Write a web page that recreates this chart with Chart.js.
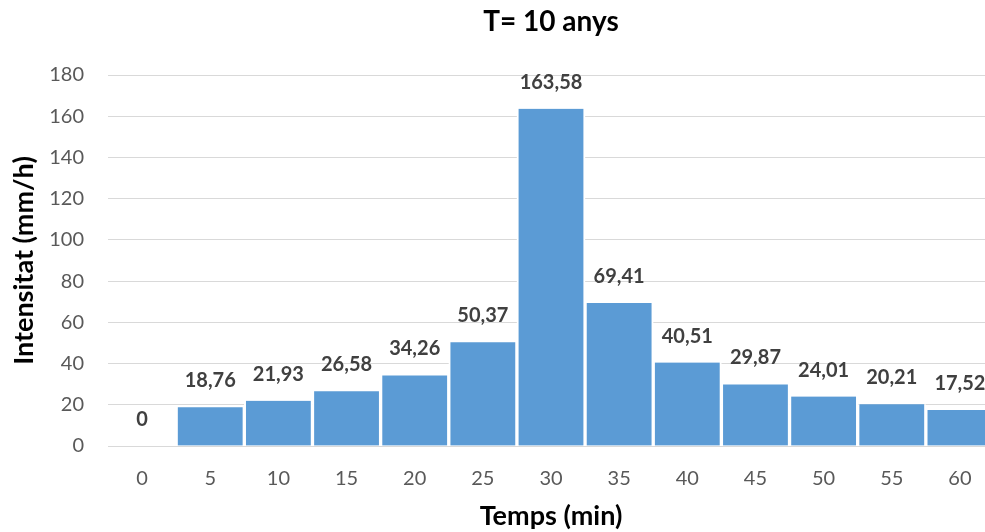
<!DOCTYPE html>
<html>
<head>
<meta charset="utf-8">
<script src="https://cdn.jsdelivr.net/npm/chart.js@4.4.0/dist/chart.umd.min.js"></script>
<style>
  html, body { margin: 0; padding: 0; background: #fff; overflow: hidden; }
  .wrap { width: 994px; height: 532px; }
</style>
</head>
<body>
<div class="wrap"><canvas id="chart"></canvas></div>
<script>
const categories = ["0", "5", "10", "15", "20", "25", "30", "35", "40", "45", "50", "55", "60"];
const intensity = [0, 18.76, 21.93, 26.58, 34.26, 50.37, 163.58, 69.41, 40.51, 29.87, 24.01, 20.21, 17.52];
const yTicks = [0, 20, 40, 60, 80, 100, 120, 140, 160, 180];

const FONT = "Lato, 'Open Sans', sans-serif";

// labels above each bar, comma as decimal mark
const barLabels = {
  id: "barLabels",
  afterDatasetsDraw(chart) {
    const ctx = chart.ctx;
    const meta = chart.getDatasetMeta(0);
    ctx.save();
    ctx.font = "bold 20px " + FONT;
    ctx.fillStyle = "#404040";
    ctx.textAlign = "center";
    ctx.textBaseline = "alphabetic";
    meta.data.forEach((bar, i) => {
      const txt = String(intensity[i]).replace(".", ",");
      ctx.fillText(txt, bar.x, bar.y - 20);
    });
    ctx.restore();
  }
};

let ctx = document.getElementById("chart");
new Chart(ctx, {
  type: "bar",
  data: {
    labels: categories,
    datasets: [
      {
        data: intensity,
        backgroundColor: "#5B9BD5",
        borderColor: "#ffffff",
        borderWidth: { left: 2, right: 2, top: 0, bottom: 0 },
        borderSkipped: "bottom",
        barPercentage: 1,
        categoryPercentage: 1
      }
    ]
  },
  options: {
    responsive: true,
    maintainAspectRatio: false,
    animation: false,
    layout: { padding: 0 },
    plugins: {
      legend: { display: false },
      tooltip: { enabled: false },
      title: {
        display: true,
        fullSize: false,
        text: "T= 10 anys",
        color: "#000000",
        font: { family: FONT, size: 28, weight: "bold" },
        padding: { top: 5, bottom: 36.4 }
      }
    },
    scales: {
      x: {
        grid: { display: false, drawTicks: false },
        border: { display: true, color: "#d9d9d9", width: 1 },
        ticks: { color: "#595959", font: { family: FONT, size: 20 }, padding: 21 },
        title: {
          display: true,
          text: "Temps (min)",
          color: "#000000",
          font: { family: FONT, size: 27, weight: "bold" },
          padding: { top: 0, bottom: 0 }
        },
        afterFit(scale) { scale.height = 86; }
      },
      y: {
        min: 0,
        max: 180,
        afterBuildTicks(scale) { scale.ticks = yTicks.map(v => ({ value: v })); },
        grid: { color: "#d9d9d9", drawTicks: false },
        border: { display: false },
        ticks: { color: "#595959", font: { family: FONT, size: 20 }, padding: 24 },
        title: {
          display: true,
          text: "Intensitat (mm/h)",
          color: "#000000",
          font: { family: FONT, size: 27, weight: "bold" },
          padding: { top: 8, bottom: 0 }
        },
        afterFit(scale) { scale.width = 108; }
      }
    }
  },
  plugins: [barLabels]
});
</script>
</body>
</html>
